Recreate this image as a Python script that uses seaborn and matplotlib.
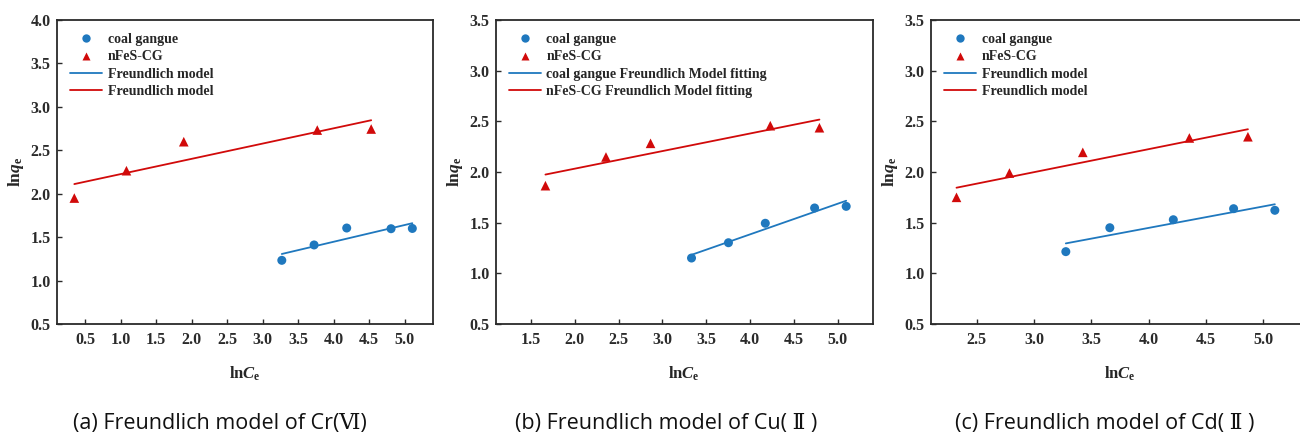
import numpy as np
import pandas as pd
import matplotlib
matplotlib.use("Agg")
import matplotlib.pyplot as plt
from matplotlib.ticker import MultipleLocator, FormatStrFormatter
from matplotlib.lines import Line2D
import seaborn as sns

# ---- Freundlich isotherm data (lnCe, lnqe) ----
# Cr(VI)
cr_cg_lnce = [3.27, 3.725, 4.185, 4.81, 5.11]
cr_cg_lnqe = [1.233, 1.41, 1.605, 1.597, 1.60]
cr_fes_lnce = [0.345, 1.08, 1.888, 3.77, 4.53]
cr_fes_lnqe = [1.95, 2.265, 2.599, 2.733, 2.745]
# Cu(II)
cu_cg_lnce = [3.332, 3.753, 4.173, 4.735, 5.095]
cu_cg_lnqe = [1.151, 1.302, 1.494, 1.645, 1.661]
cu_fes_lnce = [1.667, 2.357, 2.865, 4.23, 4.79]
cu_fes_lnqe = [1.865, 2.148, 2.283, 2.457, 2.437]
# Cd(II)
cd_cg_lnce = [3.276, 3.66, 4.214, 4.74, 5.10]
cd_cg_lnqe = [1.214, 1.45, 1.529, 1.638, 1.622]
cd_fes_lnce = [2.322, 2.784, 3.424, 4.354, 4.865]
cd_fes_lnqe = [1.75, 1.99, 2.194, 2.336, 2.348]

series_names = ["coal gangue", "nFeS-CG"]
fit_labels_a = ["Freundlich model", "Freundlich model"]
fit_labels_b = ["coal gangue Freundlich Model fitting", "nFeS-CG Freundlich Model fitting"]
fit_labels_c = ["Freundlich model", "Freundlich model"]
captions = ["(a) Freundlich model of Cr(\u2165)",
            "(b) Freundlich model of Cu( \u2161 )",
            "(c) Freundlich model of Cd( \u2161 )"]

BLUE = "#1f78be"
RED = "#d10a0a"

sns.set_theme(style="ticks")
plt.rcParams.update({
    "font.family": ["Liberation Serif", "DejaVu Serif"],
    "font.weight": "bold",
    "mathtext.fontset": "custom",
    "mathtext.rm": "Liberation Serif:bold",
    "mathtext.it": "Liberation Serif:italic:bold",
    "mathtext.bf": "Liberation Serif:bold",
    "axes.edgecolor": "#2a2a2a",
    "axes.linewidth": 1.3,
    "xtick.direction": "in",
    "ytick.direction": "in",
    "xtick.major.size": 3.6,
    "ytick.major.size": 3.6,
    "xtick.major.width": 1.0,
    "ytick.major.width": 1.0,
    "xtick.color": "#2a2a2a",
    "ytick.color": "#2a2a2a",
})

fig = plt.figure(figsize=(13, 4.38), dpi=100)
fig.patch.set_facecolor("white")

panels = [
    dict(rect=[0.0438, 0.2603, 0.2892, 0.694], xlim=(0.1, 5.4), ylim=(0.5, 4.0),
         cg=(cr_cg_lnce, cr_cg_lnqe), fes=(cr_fes_lnce, cr_fes_lnqe), fits=fit_labels_a),
    dict(rect=[0.3813, 0.2603, 0.2902, 0.694], xlim=(1.1, 5.4), ylim=(0.5, 3.5),
         cg=(cu_cg_lnce, cu_cg_lnqe), fes=(cu_fes_lnce, cu_fes_lnqe), fits=fit_labels_b),
    dict(rect=[0.7162, 0.2603, 0.2909, 0.694], xlim=(2.1, 5.4), ylim=(0.5, 3.5),
         cg=(cd_cg_lnce, cd_cg_lnqe), fes=(cd_fes_lnce, cd_fes_lnqe), fits=fit_labels_c),
]

for p in panels:
    ax = fig.add_axes(p["rect"])
    cg = pd.DataFrame({"x": p["cg"][0], "y": p["cg"][1]})
    fes = pd.DataFrame({"x": p["fes"][0], "y": p["fes"][1]})

    sns.regplot(data=cg, x="x", y="y", ax=ax, scatter=False, ci=None,
                color=BLUE, line_kws=dict(lw=1.3))
    sns.regplot(data=fes, x="x", y="y", ax=ax, scatter=False, ci=None,
                color=RED, line_kws=dict(lw=1.3))
    sns.scatterplot(data=cg, x="x", y="y", ax=ax, marker="o", s=42,
                    color=BLUE, edgecolor="none", zorder=3)
    sns.scatterplot(data=fes, x="x", y="y", ax=ax, marker="^", s=48,
                    color=RED, edgecolor="none", zorder=3)

    ax.set_xlim(*p["xlim"])
    ax.set_ylim(*p["ylim"])
    ax.xaxis.set_major_locator(MultipleLocator(0.5))
    ax.yaxis.set_major_locator(MultipleLocator(0.5))
    ax.xaxis.set_major_formatter(FormatStrFormatter("%.1f"))
    ax.yaxis.set_major_formatter(FormatStrFormatter("%.1f"))
    ax.tick_params(axis="x", labelsize=11.5, pad=6.0, top=False)
    ax.tick_params(axis="y", labelsize=11.5, pad=4.5, right=False)
    for lab in ax.get_xticklabels() + ax.get_yticklabels():
        lab.set_fontweight("bold")

    ax.set_xlabel(r"$\mathrm{ln}C_{\mathrm{e}}$", fontsize=12, labelpad=12)
    ax.set_ylabel(r"$\mathrm{ln}q_{\mathrm{e}}$", fontsize=12.5, labelpad=3)

    handles = [
        Line2D([], [], ls="none", marker="o", ms=6.0, color=BLUE, mec="none"),
        Line2D([], [], ls="none", marker="^", ms=6.4, color=RED, mec="none"),
        Line2D([], [], color=BLUE, lw=1.3),
        Line2D([], [], color=RED, lw=1.3),
    ]
    labels = series_names + p["fits"]
    ax.legend(handles, labels, loc="upper left", frameon=False,
              prop=dict(family="Liberation Serif", weight="bold", size=10),
              handlelength=2.3, handletextpad=0.4, labelspacing=0.3,
              borderaxespad=0.45, borderpad=0.5)

caption_x = [73 / 1300, 515 / 1300, 955 / 1300]
for cx, text in zip(caption_x, captions):
    fig.text(cx, 0.032, text, ha="left", va="center", fontsize=15.5,
             fontweight="normal", color="#111111",
             family=["Open Sans", "DejaVu Serif", "Noto Sans CJK SC"])

fig.savefig("out.png", dpi=100, facecolor="white")
